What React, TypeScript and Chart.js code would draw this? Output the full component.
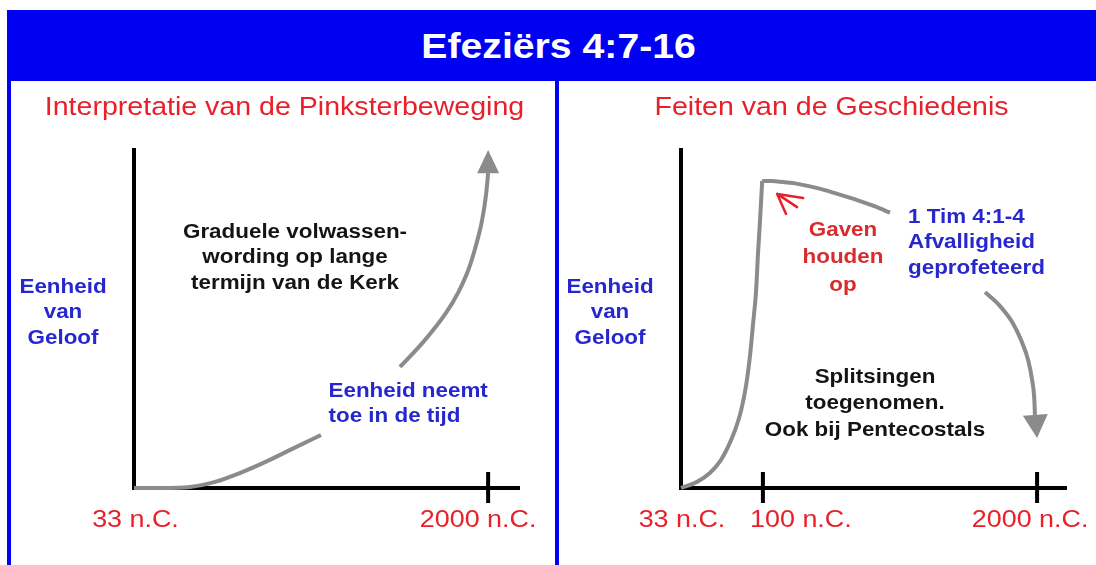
import React, { useEffect, useRef } from 'react';
import { Chart, registerables } from 'chart.js';

Chart.register(...registerables);

// ---------------- data ----------------
const TITLE = 'Efeziërs 4:7-16';
const LEFT_SUBTITLE = 'Interpretatie van de Pinksterbeweging';
const RIGHT_SUBTITLE = 'Feiten van de Geschiedenis';
const Y_AXIS_LABEL = ['Eenheid', 'van', 'Geloof'];

// schematic time axis: 0 = 33 n.C., 100 = 2000 n.C.
const LEFT_TICK_VALUES = [0, 100];
const LEFT_TICK_LABELS = ['33 n.C.', '2000 n.C.'];
const RIGHT_TICK_VALUES = [0, 23, 100];
const RIGHT_TICK_LABELS = ['33 n.C.', '100 n.C.', '2000 n.C.'];

// left: gradual growth of unity (null = gap behind the caption)
const LEFT_CURVE_X = [0, 7.9, 15.8, 22.9, 29.9, 37, 44.1, 52.8, 64, 75.1, 81.9, 88.1, 91.5, 94.4, 96.6, 98.3, 99.4, 100];
const LEFT_CURVE_Y = [0, 0, 0.3, 1.8, 4.4, 7.6, 11.2, 15.6, null, 35.6, 43.2, 51.5, 57.4, 64.1, 71.5, 78.8, 86.2, 92.6];
const LEFT_ARROW_TIP = [100, 99.4];
const LEFT_ARROW_BASE = [100, 92.6];

// right: facts of history
const RIGHT_RISE_X = [0, 4.5, 8.1, 11.0, 13.2, 15.2, 16.9, 18.3, 19.4, 20.2, 21.1, 21.6, 22.2, 22.8];
const RIGHT_RISE_Y = [0, 1.8, 4.4, 7.9, 12.1, 17.1, 22.9, 30.3, 39.1, 47.9, 58.2, 68.5, 78.8, 90.3];
const RIGHT_DECLINE_X = [22.8, 25.6, 27.8, 32.0, 36.2, 40.4, 45.5, 50.3, 54.5, 58.7];
const RIGHT_DECLINE_Y = [90.3, 90.3, 90.1, 89.6, 88.7, 87.6, 86.0, 84.4, 82.8, 81.0];
const APOSTASY_X = [85.4, 89.6, 93.0, 95.5, 97.5, 98.6, 99.2, 99.4];
const APOSTASY_Y = [57.6, 53.5, 48.8, 43.5, 37.6, 31.8, 26.5, 21.5];
const APOSTASY_ARROW_TIP = [100, 14.7];
const APOSTASY_ARROW_BASE = [99.5, 21.5];
const GIFTS_ARROW_TIP = [27, 86.5];
const GIFTS_ARROW_TAILS_X = [34.3, 29.5, 32.6];
const GIFTS_ARROW_TAILS_Y = [85.3, 80.6, 82.6];

const GROWTH_NOTE = ['Graduele volwassen-', 'wording op lange', 'termijn van de Kerk'];
const UNITY_NOTE = ['Eenheid neemt', 'toe in de tijd'];
const GIFTS_NOTE = ['Gaven', 'houden', 'op'];
const APOSTASY_NOTE = ['1 Tim 4:1-4', 'Afvalligheid', 'geprofeteerd'];
const SPLITS_NOTE = ['Splitsingen', 'toegenomen.', 'Ook bij Pentecostals'];

// ---------------- style / layout ----------------
const BLUE = '#0000f2';
const RED = '#e8202a';
const DARK_RED = '#d92b2b';
const TEXT_BLUE = '#2727cf';
const GREY = '#8b8b8b';
const BLACK = '#141414';
const SX = 1.12; // horizontal stretch of the lettering
const FONT = '"Liberation Sans", Arial, Helvetica, sans-serif';

type TextBlock = {
  lines: string[];
  x: number;
  y: number;
  lh: number;
  size: number;
  bold: boolean;
  color: string;
  align: 'left' | 'center';
};

type Arrow = { tip: number[]; base: number[]; halfWidth: number };

type PanelCfg = {
  width: number;
  height: number;
  padding: { left: number; right: number; top: number; bottom: number };
  xMax: number;
  tickValues: number[];
  tickLabels: string[];
  tickLabelDx: number[];
  series: { x: number[]; y: (number | null)[] }[];
  arrows: Arrow[];
  thinArrow?: { tip: number[]; tailsX: number[]; tailsY: number[] };
  texts: TextBlock[];
};

function drawBlock(ctx: CanvasRenderingContext2D, b: TextBlock) {
  ctx.save();
  ctx.font = `${b.bold ? 'bold ' : ''}${b.size}px ${FONT}`;
  ctx.fillStyle = b.color;
  ctx.textBaseline = 'middle';
  ctx.textAlign = 'left';
  b.lines.forEach((t, i) => {
    const w = ctx.measureText(t).width * SX;
    const left = b.align === 'center' ? b.x - w / 2 : b.x;
    ctx.save();
    ctx.translate(left, b.y + i * b.lh);
    ctx.scale(SX, 1);
    ctx.fillText(t, 0, 0);
    ctx.restore();
  });
  ctx.restore();
}

function panelPlugin(cfg: PanelCfg) {
  return {
    id: 'panelDecor',
    beforeDatasetsDraw(chart: any) {
      const { ctx } = chart;
      const xs = chart.scales.x;
      const ys = chart.scales.y;
      const x0 = xs.getPixelForValue(0);
      const y0 = ys.getPixelForValue(0);
      const yTop = ys.getPixelForValue(100);
      const xEnd = xs.getPixelForValue(cfg.xMax);
      ctx.save();
      ctx.strokeStyle = '#000';
      ctx.lineWidth = 4;
      ctx.lineCap = 'butt';
      ctx.beginPath();
      ctx.moveTo(x0, yTop);
      ctx.lineTo(x0, y0 + 2);
      ctx.moveTo(x0 - 2, y0);
      ctx.lineTo(xEnd, y0);
      cfg.tickValues.forEach((v) => {
        if (v <= 0) return;
        const px = xs.getPixelForValue(v);
        ctx.moveTo(px, y0 - 16);
        ctx.lineTo(px, y0 + 15);
      });
      ctx.stroke();
      ctx.restore();
    },
    afterDatasetsDraw(chart: any) {
      const { ctx } = chart;
      const xs = chart.scales.x;
      const ys = chart.scales.y;
      const y0 = ys.getPixelForValue(0);
      const x0 = xs.getPixelForValue(0);

      // arrow heads
      cfg.arrows.forEach((a) => {
        const tx = xs.getPixelForValue(a.tip[0]);
        const ty = ys.getPixelForValue(a.tip[1]);
        const bx = xs.getPixelForValue(a.base[0]);
        const by = ys.getPixelForValue(a.base[1]);
        const len = Math.hypot(tx - bx, ty - by) || 1;
        const nx = -(ty - by) / len;
        const ny = (tx - bx) / len;
        ctx.save();
        ctx.fillStyle = GREY;
        ctx.beginPath();
        ctx.moveTo(tx, ty);
        ctx.lineTo(bx + nx * a.halfWidth, by + ny * a.halfWidth);
        ctx.lineTo(bx - nx * a.halfWidth, by - ny * a.halfWidth);
        ctx.closePath();
        ctx.fill();
        ctx.restore();
      });

      // small red arrow
      if (cfg.thinArrow) {
        const t = cfg.thinArrow;
        const tx = xs.getPixelForValue(t.tip[0]);
        const ty = ys.getPixelForValue(t.tip[1]);
        ctx.save();
        ctx.strokeStyle = RED;
        ctx.lineWidth = 2.5;
        ctx.lineCap = 'round';
        ctx.beginPath();
        t.tailsX.forEach((vx, i) => {
          ctx.moveTo(tx, ty);
          ctx.lineTo(xs.getPixelForValue(vx), ys.getPixelForValue(t.tailsY[i]));
        });
        ctx.stroke();
        ctx.restore();
      }

      // tick labels
      cfg.tickValues.forEach((v, i) => {
        drawBlock(ctx, {
          lines: [cfg.tickLabels[i]],
          x: xs.getPixelForValue(v) + cfg.tickLabelDx[i],
          y: y0 + 32.7,
          lh: 0,
          size: 24,
          bold: false,
          color: RED,
          align: 'center',
        });
      });

      // y axis label
      drawBlock(ctx, {
        lines: Y_AXIS_LABEL,
        x: x0 - 71,
        y: y0 - 201,
        lh: 25.5,
        size: 20,
        bold: true,
        color: TEXT_BLUE,
        align: 'center',
      });

      cfg.texts.forEach((b) => drawBlock(ctx, b));
    },
  };
}

function Panel({ cfg, left, top }: { cfg: PanelCfg; left: number; top: number }) {
  const ref = useRef<HTMLCanvasElement | null>(null);
  useEffect(() => {
    if (!ref.current) return;
    const chart = new Chart(ref.current, {
      type: 'line',
      data: {
        datasets: cfg.series.map((s) => ({
          data: s.x.map((x, i) => ({ x, y: s.y[i] })),
          borderColor: GREY,
          borderWidth: 4,
          pointRadius: 0,
          cubicInterpolationMode: 'monotone',
          fill: false,
          clip: false,
          spanGaps: false,
          borderCapStyle: 'butt',
          borderJoinStyle: 'round',
        })) as any,
      },
      options: {
        animation: false,
        responsive: false,
        devicePixelRatio: 1,
        events: [],
        layout: { padding: cfg.padding },
        plugins: {
          legend: { display: false },
          tooltip: { enabled: false },
          title: { display: false },
        },
        scales: {
          x: { type: 'linear', min: 0, max: cfg.xMax, display: false },
          y: { type: 'linear', min: 0, max: 100, display: false },
        },
      } as any,
      plugins: [panelPlugin(cfg)],
    });
    return () => chart.destroy();
  }, [cfg]);
  return (
    <div style={{ position: 'absolute', left, top, width: cfg.width, height: cfg.height, background: '#fff' }}>
      <canvas ref={ref} width={cfg.width} height={cfg.height} style={{ display: 'block' }} />
    </div>
  );
}

const LEFT_CFG: PanelCfg = {
  width: 544,
  height: 484,
  padding: { left: 123, right: 35, top: 67, bottom: 77 },
  xMax: 109,
  tickValues: LEFT_TICK_VALUES,
  tickLabels: LEFT_TICK_LABELS,
  tickLabelDx: [1.5, -10],
  series: [{ x: LEFT_CURVE_X, y: LEFT_CURVE_Y }],
  arrows: [{ tip: LEFT_ARROW_TIP, base: LEFT_ARROW_BASE, halfWidth: 11 }],
  texts: [
    { lines: [LEFT_SUBTITLE], x: 273.5, y: 27, lh: 0, size: 25.5, bold: false, color: RED, align: 'center' },
    { lines: GROWTH_NOTE, x: 284, y: 151, lh: 25.5, size: 20, bold: true, color: BLACK, align: 'center' },
    { lines: UNITY_NOTE, x: 317.5, y: 310.5, lh: 25, size: 20, bold: true, color: TEXT_BLUE, align: 'left' },
  ],
};

const RIGHT_CFG: PanelCfg = {
  width: 537,
  height: 484,
  padding: { left: 122, right: 29, top: 67, bottom: 77 },
  xMax: 108.4,
  tickValues: RIGHT_TICK_VALUES,
  tickLabels: RIGHT_TICK_LABELS,
  tickLabelDx: [1, 38, -7],
  series: [
    { x: RIGHT_RISE_X, y: RIGHT_RISE_Y },
    { x: RIGHT_DECLINE_X, y: RIGHT_DECLINE_Y },
    { x: APOSTASY_X, y: APOSTASY_Y },
  ],
  arrows: [{ tip: APOSTASY_ARROW_TIP, base: APOSTASY_ARROW_BASE, halfWidth: 12.5 }],
  thinArrow: { tip: GIFTS_ARROW_TIP, tailsX: GIFTS_ARROW_TAILS_X, tailsY: GIFTS_ARROW_TAILS_Y },
  texts: [
    { lines: [RIGHT_SUBTITLE], x: 272.5, y: 27, lh: 0, size: 25.5, bold: false, color: RED, align: 'center' },
    { lines: GIFTS_NOTE, x: 284, y: 149, lh: 27.5, size: 20, bold: true, color: DARK_RED, align: 'center' },
    { lines: APOSTASY_NOTE, x: 349, y: 136, lh: 25.5, size: 20, bold: true, color: TEXT_BLUE, align: 'left' },
    { lines: SPLITS_NOTE, x: 316, y: 296, lh: 26.5, size: 20, bold: true, color: BLACK, align: 'center' },
  ],
};

export default function App() {
  return (
    <div style={{ position: 'absolute', left: 0, top: 0, width: 1096, height: 565, background: '#fff', overflow: 'hidden' }}>
      <div style={{ position: 'absolute', left: 7, top: 10, width: 1089, height: 555, background: BLUE }} />
      <div
        style={{
          position: 'absolute',
          left: 7,
          top: 10,
          width: 1089,
          height: 71,
          display: 'flex',
          alignItems: 'center',
          justifyContent: 'center',
          paddingLeft: 14,
          boxSizing: 'border-box',
        }}
      >
        <span style={{ color: '#fff', font: `bold 35px ${FONT}`, lineHeight: '1', display: 'inline-block', transform: `scaleX(${SX})` }}>
          {TITLE}
        </span>
      </div>
      <Panel cfg={LEFT_CFG} left={11} top={81} />
      <Panel cfg={RIGHT_CFG} left={559} top={81} />
    </div>
  );
}
